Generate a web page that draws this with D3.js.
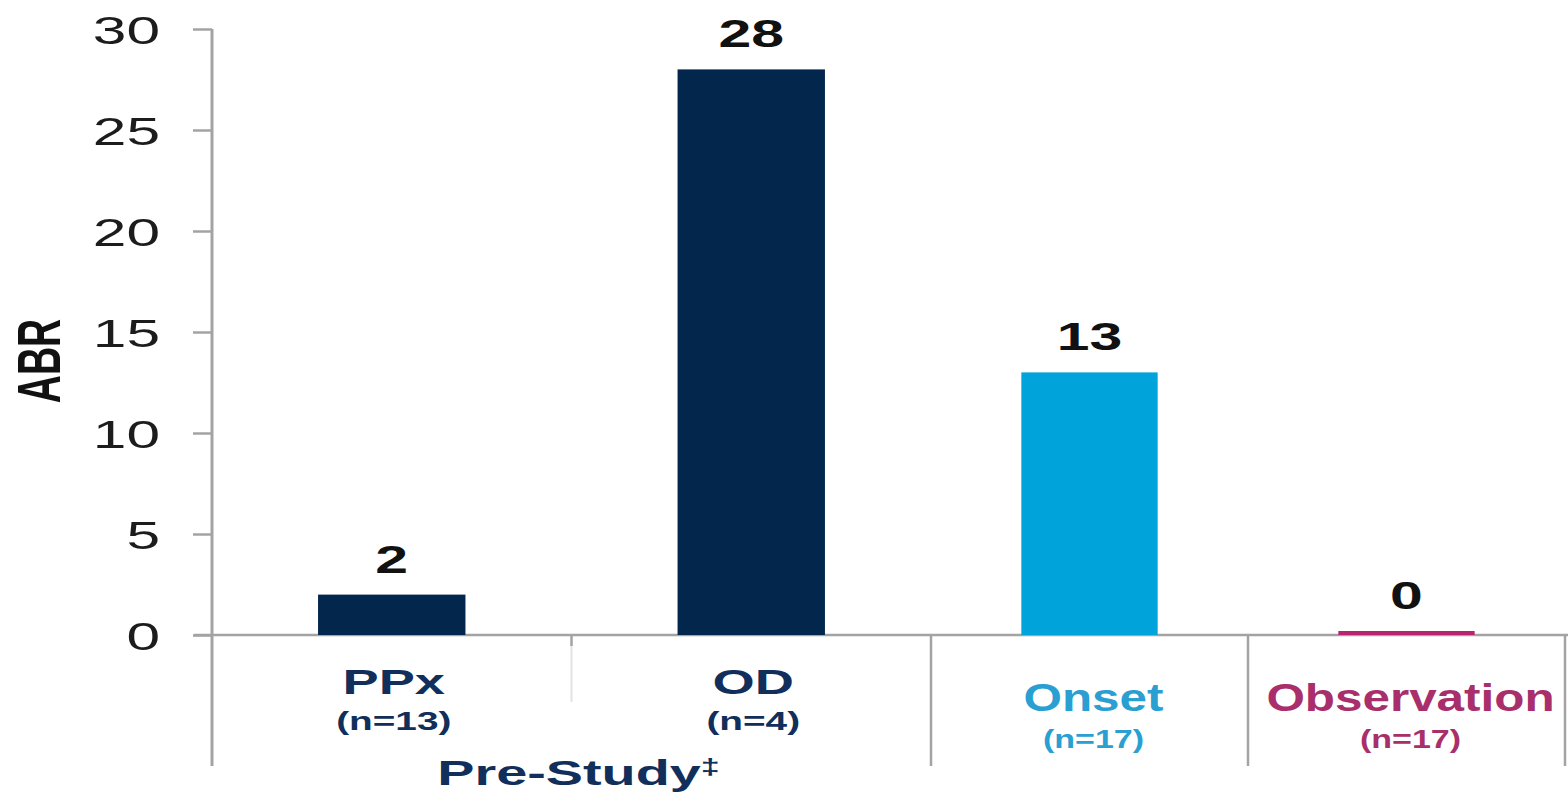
<!DOCTYPE html>
<html>
<head>
<meta charset="utf-8">
<script src="https://cdn.jsdelivr.net/npm/d3@7"></script>
<style>
  html, body { margin: 0; padding: 0; background: #ffffff; }
  svg { display: block; font-family: "Liberation Sans", Arial, sans-serif; }
</style>
</head>
<body>
<svg id="chart" width="1568" height="794"></svg>
<script>
// ABR by regimen
const categories  = ["PPx", "OD", "Onset", "Observation"];
const sampleSizes = ["(n=13)", "(n=4)", "(n=17)", "(n=17)"];
const abrValues   = [2, 28, 13, 0];
const categoryGroup = ["pre", "pre", "study", "study"];
const groupKeys   = ["pre", "study"];
const groupTitles = ["Pre-Study‡", ""];
const yTicks      = [0, 5, 10, 15, 20, 25, 30];

const barColors   = ["#03264c", "#03264c", "#00a3da", "#b8246e"];
const labelColors = ["#112f5a", "#112f5a", "#2a9fd2", "#a82f6b"];

const svg = d3.select("#chart");

// the artwork is widened horizontally; text is stretched to follow
const SX = 1.55;
const SX_RIGHT = 1.3;

const axisX = 212;
const rightEdge = 1565;
const groupSplit = 931;
const cellBottom = 766;
const gridColor = "#a3a3a3";

const y = d3.scaleLinear().domain([0, 30]).range([635, 29]);

const groupX = d3.scaleOrdinal()
  .domain(groupKeys)
  .range([[axisX, groupSplit], [groupSplit, rightEdge]]);

const innerX = {};
groupKeys.forEach(g => {
  innerX[g] = d3.scaleBand()
    .domain(categories.filter((c, i) => categoryGroup[i] === g))
    .range(groupX(g));
});

const data = categories.map((c, i) => ({
  name: c, n: sampleSizes[i], value: abrValues[i], group: categoryGroup[i],
  bar: barColors[i], label: labelColors[i]
}));

function place(sel, x, yPos, sx) {
  return sel.attr("transform", `translate(${x},${yPos}) scale(${sx},1)`);
}

// Y axis
const yAxis = d3.axisLeft(y).tickValues(yTicks).tickSize(19).tickSizeOuter(0);
const gy = svg.append("g").attr("transform", `translate(${axisX},0)`).call(yAxis);
gy.select(".domain").remove();
gy.selectAll(".tick line").attr("stroke", gridColor).attr("stroke-width", 2.5);
gy.selectAll(".tick text")
  .attr("x", -52 / SX)
  .attr("dy", "0.36em")
  .attr("transform", `scale(${SX},1)`)
  .attr("font-size", 39)
  .attr("fill", "#1c1c1c")
  .attr("font-family", "Liberation Sans, Arial, sans-serif");

svg.append("line")
  .attr("x1", axisX).attr("x2", axisX)
  .attr("y1", y(30)).attr("y2", cellBottom)
  .attr("stroke", gridColor).attr("stroke-width", 3);

// baseline
svg.append("line")
  .attr("x1", 194).attr("x2", 1568)
  .attr("y1", y(0)).attr("y2", y(0))
  .attr("stroke", gridColor).attr("stroke-width", 2.5);

// category cell dividers
groupKeys.forEach((g, gi) => {
  const [g0, g1] = groupX(g);
  if (gi > 0 || g0 !== axisX) {
    svg.append("line").attr("x1", g0).attr("x2", g0)
      .attr("y1", y(0)).attr("y2", cellBottom)
      .attr("stroke", gridColor).attr("stroke-width", 2.5);
  }
  if (gi === groupKeys.length - 1) {
    svg.append("line").attr("x1", g1).attr("x2", g1)
      .attr("y1", y(0)).attr("y2", cellBottom)
      .attr("stroke", gridColor).attr("stroke-width", 2.5);
  }
  const band = innerX[g];
  band.domain().slice(1).forEach(c => {
    const xb = band(c);
    if (groupTitles[gi]) {
      // titled group: short tick plus faint separator
      svg.append("line").attr("x1", xb).attr("x2", xb)
        .attr("y1", y(0)).attr("y2", y(0) + 11)
        .attr("stroke", gridColor).attr("stroke-width", 2.5);
      svg.append("line").attr("x1", xb).attr("x2", xb)
        .attr("y1", y(0) + 11).attr("y2", 702)
        .attr("stroke", "#e2e2e2").attr("stroke-width", 2);
    } else {
      svg.append("line").attr("x1", xb).attr("x2", xb)
        .attr("y1", y(0)).attr("y2", cellBottom)
        .attr("stroke", gridColor).attr("stroke-width", 2.5);
    }
  });
});

// bars (the untitled group's bars are drawn a little wider)
function barFrac(d) { return d.group === "pre" ? 0.41 : 0.43; }
function cx(d) { const b = innerX[d.group]; return b(d.name) + b.bandwidth() / 2; }
function bw(d) { return innerX[d.group].bandwidth() * barFrac(d); }

svg.append("g").selectAll("rect").data(data).join("rect")
  .attr("x", d => cx(d) - bw(d) / 2)
  .attr("width", d => bw(d))
  .attr("y", d => Math.min(y(d.value), y(0) - 4))
  .attr("height", d => Math.max(y(0) - y(d.value), 4))
  .attr("fill", d => d.bar);

// value labels
svg.append("g").selectAll("text").data(data).join("text")
  .each(function(d) { place(d3.select(this), cx(d), Math.min(y(d.value), y(0) - 4) - 22, SX); })
  .attr("text-anchor", "middle")
  .attr("font-size", 38)
  .attr("font-weight", "bold")
  .attr("fill", "#111111")
  .text(d => d.value);

// category labels
const catG = svg.append("g");
data.forEach(d => {
  const titled = groupTitles[groupKeys.indexOf(d.group)] !== "";
  const sx = titled ? SX : SX_RIGHT;
  place(catG.append("text"), cx(d) + (titled ? 2 : 4), titled ? 694 : 711, sx)
    .attr("text-anchor", "middle")
    .attr("font-size", titled ? 35 : 38)
    .attr("font-weight", "bold")
    .attr("fill", d.label)
    .text(d.name);
  place(catG.append("text"), cx(d) + (titled ? 2 : 4), titled ? 730 : 748, titled ? SX : 1.36)
    .attr("text-anchor", "middle")
    .attr("font-size", 25)
    .attr("font-weight", "bold")
    .attr("fill", d.label)
    .text(d.n);
});

// group titles
groupKeys.forEach((g, gi) => {
  if (!groupTitles[gi]) return;
  const [g0, g1] = groupX(g);
  const title = groupTitles[gi];
  const main = title.replace("‡", "");
  const t = place(svg.append("text"), (g0 + g1) / 2 + 7, 785, SX)
    .attr("text-anchor", "middle")
    .attr("font-size", 36)
    .attr("font-weight", "bold")
    .attr("fill", "#112f5a");
  t.append("tspan").text(main);
  if (title.includes("‡")) {
    t.append("tspan").attr("font-size", 22).attr("dy", -11).text("‡");
  }
});

// y axis title
svg.append("text")
  .attr("transform", `translate(60,361) scale(${SX},1) rotate(-90)`)
  .attr("text-anchor", "middle")
  .attr("font-size", 39)
  .attr("font-weight", "bold")
  .attr("fill", "#111111")
  .text("ABR");
</script>
</body>
</html>
